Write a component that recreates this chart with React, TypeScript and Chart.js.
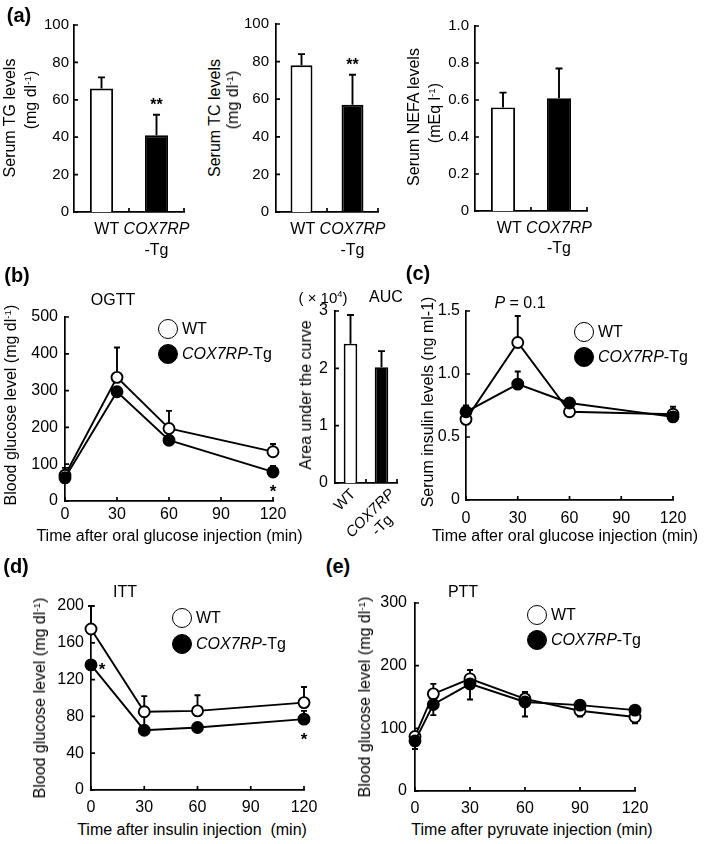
import React, { useEffect, useRef } from 'react';
import { Chart, registerables } from 'chart.js';

Chart.register(...registerables);

const FONT = "'Liberation Sans', Arial, Helvetica, sans-serif";
Chart.defaults.font.family = FONT;
Chart.defaults.color = '#000';

// ---------------- data ----------------
const genotypes = ['WT', 'COX7RP'];
const tgSuffix = '-Tg';

const serumTG = [66, 41];
const serumTGErr = [6, 11];
const serumTGStars = ['', '**'];
const tgTicks = [0, 20, 40, 60, 80, 100];

const serumTC = [78, 57];
const serumTCErr = [6, 16];
const serumTCStars = ['', '**'];
const tcTicks = [0, 20, 40, 60, 80, 100];

const serumNEFA = [0.56, 0.61];
const serumNEFAErr = [0.08, 0.16];
const nefaTicks = [0, 0.2, 0.4, 0.6, 0.8, 1.0];

const timeTicks = [0, 30, 60, 90, 120];

const ogttTimes = [0, 30, 60, 120];
const ogttWT = [70, 336, 197, 134];
const ogttWTErrUp = [20, 81, 48, 21];
const ogttTg = [63, 297, 165, 79];
const ogttTgErrUp = [0, 0, 0, 16];
const ogttTgStars = ['', '', '', '*'];
const ogttTicks = [0, 100, 200, 300, 400, 500];

const aucValues = [2.43, 2.02];
const aucErr = [0.5, 0.28];
const aucTicks = [0, 1, 2, 3];

const insulinTimes = [0, 30, 60, 120];
const insulinWT = [0.64, 1.25, 0.7, 0.68];
const insulinWTErrUp = [0, 0.21, 0.02, 0.06];
const insulinTg = [0.7, 0.92, 0.77, 0.66];
const insulinTgErrUp = [0.05, 0.1, 0.04, 0];
const insulinTicks = [0, 0.5, 1.0, 1.5];

const ittTimes = [0, 30, 60, 120];
const ittWT = [175, 85, 86, 95];
const ittWTErrUp = [25, 17, 17, 17];
const ittTg = [136, 65, 68, 77];
const ittTgErrUp = [0, 15, 0, 9];
const ittTgStars = ['*', '', '', '*'];
const ittTicks = [0, 40, 80, 120, 160, 200];

const pttTimes = [0, 10, 30, 60, 90, 120];
const pttWT = [87, 155, 179, 147, 128, 118];
const pttWTErrUp = [0, 16, 14, 11, 0, 0];
const pttWTErrDown = [0, 0, 0, 0, 9, 10];
const pttTg = [80, 138, 171, 142, 137, 129];
const pttTgErrUp = [0, 0, 0, 0, 7, 0];
const pttTgErrDown = [13, 17, 25, 23, 0, 0];
const pttTicks = [0, 100, 200, 300];

// ---------------- style constants ----------------
const LINE_W = 1.9;
const AXIS_W = 1.7;

// ---------------- plugins ----------------
const valOf = (raw: any) => (typeof raw === 'number' ? raw : raw.y);

const errorBarsPlugin = {
  id: 'errorBars',
  beforeDatasetsDraw(chart: any) {
    const ctx = chart.ctx;
    const ys = chart.scales.y;
    ctx.save();
    ctx.strokeStyle = '#000';
    ctx.lineWidth = LINE_W;
    chart.data.datasets.forEach((ds: any, di: number) => {
      const meta = chart.getDatasetMeta(di);
      const cap = ds.errCap ?? 6;
      meta.data.forEach((el: any, i: number) => {
        const v = valOf(ds.data[i]);
        const y0 = ys.getPixelForValue(v);
        const pairs: [number, number][] = [
          [ds.errUp ? ds.errUp[i] : 0, 1],
          [ds.errDown ? ds.errDown[i] : 0, -1],
        ];
        pairs.forEach(([e, s]) => {
          if (!e) return;
          const y1 = ys.getPixelForValue(v + s * e);
          ctx.beginPath();
          ctx.moveTo(el.x, y0);
          ctx.lineTo(el.x, y1);
          ctx.moveTo(el.x - cap / 2, y1);
          ctx.lineTo(el.x + cap / 2, y1);
          ctx.stroke();
        });
      });
    });
    ctx.restore();
  },
};

const starsPlugin = {
  id: 'sigStars',
  afterDatasetsDraw(chart: any) {
    const ctx = chart.ctx;
    const ys = chart.scales.y;
    chart.data.datasets.forEach((ds: any, di: number) => {
      if (!ds.stars) return;
      const meta = chart.getDatasetMeta(di);
      ds.stars.forEach((s: string, i: number) => {
        if (!s) return;
        const el = meta.data[i];
        const v = valOf(ds.data[i]);
        const base =
          ds.starAnchor === 'errTop'
            ? ys.getPixelForValue(v + (ds.errUp ? ds.errUp[i] : 0))
            : el.y;
        const cx = el.x + (ds.starDx ? ds.starDx[i] : 0);
        const cy = base + (ds.starDy ? ds.starDy[i] : 0);
        const size = ds.starSize || 17;
        ctx.save();
        ctx.fillStyle = '#000';
        ctx.font = `bold ${size}px ${FONT}`;
        ctx.textAlign = 'center';
        ctx.textBaseline = 'alphabetic';
        ctx.fillText(s, cx, cy + 0.58 * size);
        ctx.restore();
      });
    });
  },
};

const inwardTicksPlugin = {
  id: 'inwardTicks',
  afterDraw(chart: any) {
    const ctx = chart.ctx;
    const a = chart.chartArea;
    const L = 4;
    const ys = chart.scales.y;
    const xs = chart.scales.x;
    ctx.save();
    ctx.strokeStyle = '#000';
    ctx.lineWidth = AXIS_W;
    ctx.beginPath();
    ys.ticks.forEach((t: any) => {
      const p = ys.getPixelForValue(t.value);
      ctx.moveTo(a.left, p);
      ctx.lineTo(a.left + L, p);
    });
    if (xs.type === 'category') {
      const n = xs.getLabels().length;
      for (let i = 1; i <= n; i++) {
        const p = a.left + ((a.right - a.left) * i) / n;
        ctx.moveTo(p, a.bottom);
        ctx.lineTo(p, a.bottom - L);
      }
    } else {
      xs.ticks.forEach((t: any) => {
        const p = xs.getPixelForValue(t.value);
        ctx.moveTo(p, a.bottom);
        ctx.lineTo(p, a.bottom - L);
      });
    }
    ctx.stroke();
    ctx.restore();
  },
};

function flatGenotypeLabels(size: number, dy1: number, dy2: number) {
  return {
    id: 'genoLabels',
    afterDraw(chart: any) {
      const xs = chart.scales.x;
      const ctx = chart.ctx;
      const b = chart.chartArea.bottom;
      const c1 = xs.getPixelForValue(1);
      ctx.save();
      ctx.fillStyle = '#000';
      ctx.textBaseline = 'middle';
      ctx.font = `italic ${size}px ${FONT}`;
      const wC = ctx.measureText(genotypes[1]).width;
      const left = c1 - wC / 2;
      ctx.textAlign = 'left';
      ctx.fillText(genotypes[1], left, b + dy1);
      ctx.font = `${size}px ${FONT}`;
      ctx.textAlign = 'right';
      ctx.fillText(genotypes[0] + ' ', left, b + dy1);
      ctx.textAlign = 'center';
      ctx.fillText(tgSuffix, c1, b + dy2);
      ctx.restore();
    },
  };
}

function rotatedGenotypeLabels(size: number) {
  return {
    id: 'rotGenoLabels',
    afterDraw(chart: any) {
      const xs = chart.scales.x;
      const ctx = chart.ctx;
      const b = chart.chartArea.bottom;
      const c0 = xs.getPixelForValue(0);
      const c1 = xs.getPixelForValue(1);
      ctx.save();
      ctx.fillStyle = '#000';
      ctx.textAlign = 'center';
      ctx.textBaseline = 'middle';
      ctx.translate(c0 - 5.5, b + 17);
      ctx.rotate(-Math.PI / 4);
      ctx.font = `${size}px ${FONT}`;
      ctx.fillText(genotypes[0], 0, 0);
      ctx.restore();
      ctx.save();
      ctx.fillStyle = '#000';
      ctx.textAlign = 'center';
      ctx.textBaseline = 'middle';
      ctx.translate(c1 - 5, b + 36.5);
      ctx.rotate(-Math.PI / 4);
      ctx.font = `italic ${size}px ${FONT}`;
      ctx.fillText(genotypes[1], 0, -8.5);
      ctx.font = `${size}px ${FONT}`;
      ctx.fillText(tgSuffix, 0, 8.5);
      ctx.restore();
    },
  };
}

// ---------------- builders ----------------
type Box = { l: number; t: number; r: number; b: number };

const fmtInt = (v: any) => String(Number(v));
const fmtDec = (v: any) => (Number(v) === 0 ? '0' : Number(v).toFixed(1));

function yScale(ticksArr: number[], m: Box, size: number, pad: number, fmt: (v: any) => string) {
  return {
    type: 'linear',
    position: 'left',
    min: ticksArr[0],
    max: ticksArr[ticksArr.length - 1],
    afterBuildTicks: (s: any) => {
      s.ticks = ticksArr.map((v) => ({ value: v }));
    },
    afterFit: (s: any) => {
      s.width = m.l;
      s.paddingTop = 0;
      s.paddingBottom = 0;
      s.paddingLeft = 0;
      s.paddingRight = 0;
    },
    grid: { display: false, drawTicks: false },
    border: { display: true, color: '#000', width: AXIS_W },
    ticks: { color: '#000', font: { family: FONT, size }, padding: pad, autoSkip: false, callback: fmt },
  };
}

function xTimeScale(m: Box, pad: number) {
  return {
    type: 'linear',
    position: 'bottom',
    min: timeTicks[0],
    max: timeTicks[timeTicks.length - 1],
    afterBuildTicks: (s: any) => {
      s.ticks = timeTicks.map((v) => ({ value: v }));
    },
    afterFit: (s: any) => {
      s.height = m.b;
      s.paddingLeft = 0;
      s.paddingRight = 0;
      s.paddingTop = 0;
      s.paddingBottom = 0;
    },
    grid: { display: false, drawTicks: false },
    border: { display: true, color: '#000', width: AXIS_W },
    ticks: { color: '#000', font: { family: FONT, size: 16 }, padding: pad, autoSkip: false, maxRotation: 0, minRotation: 0 },
  };
}

function xCatScale(m: Box) {
  return {
    type: 'category',
    position: 'bottom',
    offset: true,
    afterFit: (s: any) => {
      s.height = m.b;
      s.paddingLeft = 0;
      s.paddingRight = 0;
      s.paddingTop = 0;
      s.paddingBottom = 0;
    },
    grid: { display: false, drawTicks: false, offset: true },
    border: { display: true, color: '#000', width: AXIS_W },
    ticks: { display: false },
  };
}

function baseOptions(m: Box, scales: any) {
  return {
    responsive: false,
    maintainAspectRatio: false,
    animation: false,
    events: [],
    layout: { padding: { left: 0, top: m.t, right: m.r, bottom: 0 } },
    plugins: { legend: { display: false }, tooltip: { enabled: false }, title: { display: false } },
    scales,
  };
}

type BarSpec = {
  values: number[];
  errs: number[];
  stars?: string[];
  yTicks: number[];
  fmt: (v: any) => string;
  tickSize: number;
  yPad: number;
  barPct: number;
  cap: number;
  labelsPlugin: any;
};

function barBuilder(spec: BarSpec) {
  return (m: Box) => ({
    type: 'bar',
    data: {
      labels: genotypes.map((g, i) => (i === 0 ? g : g + tgSuffix)),
      datasets: [
        {
          data: spec.values,
          backgroundColor: ['#ffffff', '#000000'],
          borderColor: '#000',
          borderWidth: LINE_W,
          barPercentage: spec.barPct,
          categoryPercentage: 1,
          errUp: spec.errs,
          errCap: spec.cap,
          stars: spec.stars,
          starAnchor: 'errTop',
          starDx: [0, 0],
          starDy: [-14, -14],
          starSize: 16,
        },
      ],
    },
    options: baseOptions(m, {
      x: xCatScale(m),
      y: yScale(spec.yTicks, m, spec.tickSize, spec.yPad, spec.fmt),
    }),
    plugins: [errorBarsPlugin, starsPlugin, inwardTicksPlugin, spec.labelsPlugin],
  });
}

function lineDs(label: string, times: number[], values: number[], fill: string, extra: any) {
  return {
    label,
    data: times.map((t, i) => ({ x: t, y: values[i] })),
    borderColor: '#000',
    borderWidth: LINE_W,
    backgroundColor: fill,
    pointBackgroundColor: fill,
    pointBorderColor: '#000',
    pointBorderWidth: LINE_W,
    pointRadius: 5.5,
    tension: 0,
    fill: false,
    clip: false,
    errCap: 6,
    ...extra,
  };
}

type LineSpec = {
  datasets: any[];
  yTicks: number[];
  fmt: (v: any) => string;
  yPad: number;
  xPad: number;
};

function lineBuilder(spec: LineSpec) {
  return (m: Box) => ({
    type: 'line',
    data: { datasets: spec.datasets },
    options: baseOptions(m, {
      x: xTimeScale(m, spec.xPad),
      y: yScale(spec.yTicks, m, 16, spec.yPad, spec.fmt),
    }),
    plugins: [errorBarsPlugin, starsPlugin, inwardTicksPlugin],
  });
}

// ---------------- components ----------------
function ChartBox({ area, m, build }: { area: Box; m: Box; build: (m: Box) => any }) {
  const ref = useRef<HTMLCanvasElement>(null);
  useEffect(() => {
    if (!ref.current) return;
    const chart = new Chart(ref.current, build(m));
    return () => chart.destroy();
  }, []);
  const w = area.r - area.l + m.l + m.r;
  const h = area.b - area.t + m.t + m.b;
  return (
    <canvas
      ref={ref}
      width={w}
      height={h}
      style={{ position: 'absolute', left: area.l - m.l, top: area.t - m.t, width: w, height: h }}
    />
  );
}

function Txt({
  x,
  y,
  rot = 0,
  size = 16,
  bold = false,
  anchor = 'center',
  children,
}: {
  x: number;
  y: number;
  rot?: number;
  size?: number;
  bold?: boolean;
  anchor?: 'center' | 'left';
  children: any;
}) {
  const tx = anchor === 'left' ? '0' : '-50%';
  return (
    <div
      style={{
        position: 'absolute',
        left: x,
        top: y,
        transform: `translate(${tx}, -50%) rotate(${rot}deg)`,
        fontSize: size,
        fontWeight: bold ? 700 : 400,
        lineHeight: 1,
        whiteSpace: 'pre',
        fontFamily: FONT,
        color: '#000',
      }}
    >
      {children}
    </div>
  );
}

const Sup = ({ children }: { children: any }) => (
  <sup style={{ fontSize: '0.62em', verticalAlign: '0.55em', lineHeight: 0 }}>{children}</sup>
);

function Legend({ x, y1, y2 }: { x: number; y1: number; y2: number }) {
  const circ = (y: number, fill: string) => (
    <div
      style={{
        position: 'absolute',
        left: x - 10,
        top: y - 10,
        width: 20,
        height: 20,
        boxSizing: 'border-box',
        borderRadius: '50%',
        border: '1.8px solid #000',
        background: fill,
      }}
    />
  );
  return (
    <>
      {circ(y1, '#fff')}
      {circ(y2, '#000')}
      <Txt x={x + 14} y={y1} anchor="left">
        {genotypes[0]}
      </Txt>
      <Txt x={x + 14} y={y2} anchor="left">
        <i>{genotypes[1]}</i>
        {tgSuffix}
      </Txt>
    </>
  );
}

const mBar: Box = { l: 45, t: 12, r: 20, b: 55 };
const mLine: Box = { l: 45, t: 12, r: 22, b: 30 };

export default function App() {
  return (
    <div
      style={{
        position: 'absolute',
        left: 0,
        top: 0,
        width: 709,
        height: 844,
        background: '#fff',
        overflow: 'hidden',
        fontFamily: FONT,
      }}
    >
      {/* (a) */}
      <ChartBox
        area={{ l: 74, t: 25, r: 184, b: 212 }}
        m={mBar}
        build={barBuilder({
          values: serumTG,
          errs: serumTGErr,
          stars: serumTGStars,
          yTicks: tgTicks,
          fmt: fmtInt,
          tickSize: 15,
          yPad: 5,
          barPct: 0.42,
          cap: 7,
          labelsPlugin: flatGenotypeLabels(16, 18, 39),
        })}
      />
      <ChartBox
        area={{ l: 276, t: 24, r: 378, b: 212 }}
        m={mBar}
        build={barBuilder({
          values: serumTC,
          errs: serumTCErr,
          stars: serumTCStars,
          yTicks: tcTicks,
          fmt: fmtInt,
          tickSize: 15,
          yPad: 7,
          barPct: 0.43,
          cap: 7,
          labelsPlugin: flatGenotypeLabels(16, 18, 39),
        })}
      />
      <ChartBox
        area={{ l: 475, t: 26, r: 587, b: 211 }}
        m={mBar}
        build={barBuilder({
          values: serumNEFA,
          errs: serumNEFAErr,
          yTicks: nefaTicks,
          fmt: fmtDec,
          tickSize: 15,
          yPad: 6,
          barPct: 0.43,
          cap: 7,
          labelsPlugin: flatGenotypeLabels(16, 18, 38),
        })}
      />

      {/* (b) OGTT */}
      <ChartBox
        area={{ l: 65, t: 317, r: 273, b: 501 }}
        m={mLine}
        build={lineBuilder({
          datasets: [
            lineDs(genotypes[1] + tgSuffix, ogttTimes, ogttTg, '#000', {
              errUp: ogttTgErrUp,
              stars: ogttTgStars,
              starAnchor: 'point',
              starDx: [0, 0, 0, 0],
              starDy: [0, 0, 0, 15],
            }),
            lineDs(genotypes[0], ogttTimes, ogttWT, '#fff', { errUp: ogttWTErrUp }),
          ],
          yTicks: ogttTicks,
          fmt: fmtInt,
          yPad: 7,
          xPad: 3.5,
        })}
      />
      {/* (b) AUC */}
      <ChartBox
        area={{ l: 335, t: 311, r: 397, b: 483 }}
        m={{ l: 25, t: 12, r: 15, b: 65 }}
        build={barBuilder({
          values: aucValues,
          errs: aucErr,
          yTicks: aucTicks,
          fmt: fmtInt,
          tickSize: 16,
          yPad: 7,
          barPct: 0.44,
          cap: 7,
          labelsPlugin: rotatedGenotypeLabels(15),
        })}
      />

      {/* (c) insulin */}
      <ChartBox
        area={{ l: 466, t: 311, r: 673, b: 500 }}
        m={{ l: 35, t: 12, r: 22, b: 30 }}
        build={lineBuilder({
          datasets: [
            lineDs(genotypes[1] + tgSuffix, insulinTimes, insulinTg, '#000', { errUp: insulinTgErrUp }),
            lineDs(genotypes[0], insulinTimes, insulinWT, '#fff', { errUp: insulinWTErrUp }),
          ],
          yTicks: insulinTicks,
          fmt: fmtDec,
          yPad: 6,
          xPad: 8.5,
        })}
      />

      {/* (d) ITT */}
      <ChartBox
        area={{ l: 91, t: 606, r: 304, b: 790 }}
        m={mLine}
        build={lineBuilder({
          datasets: [
            lineDs(genotypes[1] + tgSuffix, ittTimes, ittTg, '#000', {
              errUp: ittTgErrUp,
              stars: ittTgStars,
              starAnchor: 'point',
              starDx: [11, 0, 0, 0],
              starDy: [0, 0, 0, 16],
            }),
            lineDs(genotypes[0], ittTimes, ittWT, '#fff', { errUp: ittWTErrUp }),
          ],
          yTicks: ittTicks,
          fmt: fmtInt,
          yPad: 7,
          xPad: 8,
        })}
      />

      {/* (e) PTT */}
      <ChartBox
        area={{ l: 415, t: 603, r: 635, b: 791 }}
        m={mLine}
        build={lineBuilder({
          datasets: [
            lineDs(genotypes[1] + tgSuffix, pttTimes, pttTg, '#000', { errUp: pttTgErrUp, errDown: pttTgErrDown }),
            lineDs(genotypes[0], pttTimes, pttWT, '#fff', { errUp: pttWTErrUp, errDown: pttWTErrDown }),
          ],
          yTicks: pttTicks,
          fmt: fmtInt,
          yPad: 8,
          xPad: 8,
        })}
      />

      {/* panel letters */}
      <Txt x={19} y={15} size={20} bold>(a)</Txt>
      <Txt x={17} y={275} size={20} bold>(b)</Txt>
      <Txt x={418} y={273} size={20} bold>(c)</Txt>
      <Txt x={16} y={566} size={20} bold>(d)</Txt>
      <Txt x={338} y={566} size={20} bold>(e)</Txt>

      {/* (a) axis titles */}
      <Txt x={10} y={118} rot={-90}>Serum TG levels</Txt>
      <Txt x={31} y={100} rot={-90}>
        (mg dl<Sup>-1</Sup>)
      </Txt>
      <Txt x={215} y={118} rot={-90}>Serum TC levels</Txt>
      <Txt x={233} y={100} rot={-90}>
        (mg dl<Sup>-1</Sup>)
      </Txt>
      <Txt x={414} y={117} rot={-90}>Serum NEFA levels</Txt>
      <Txt x={435} y={113} rot={-90}>
        (mEq l<Sup>-1</Sup>)
      </Txt>

      {/* (b) */}
      <Txt x={113} y={300}>OGTT</Txt>
      <Txt x={11} y={405} rot={-90}>
        Blood glucose level (mg dl<Sup>-1</Sup>)
      </Txt>
      <Txt x={169.5} y={536}>Time after oral glucose injection (min)</Txt>
      <Legend x={168} y1={329} y2={354} />
      <Txt x={323} y={297} size={15}>
        ( × 10<Sup>4</Sup>)
      </Txt>
      <Txt x={386} y={297}>AUC</Txt>
      <Txt x={306} y={395} rot={-90}>Area under the curve</Txt>

      {/* (c) */}
      <Txt x={520} y={303}>
        <i>P</i> = 0.1
      </Txt>
      <Txt x={428} y={402} rot={-90}>Serum insulin levels (ng ml-1)</Txt>
      <Txt x={565} y={536}>Time after oral glucose injection (min)</Txt>
      <Legend x={584} y1={332} y2={357} />

      {/* (d) */}
      <Txt x={125} y={592}>ITT</Txt>
      <Txt x={40} y={698} rot={-90}>
        Blood glucose level (mg dl<Sup>-1</Sup>)
      </Txt>
      <Txt x={192} y={830}>Time after insulin injection  (min)</Txt>
      <Legend x={182} y1={618} y2={644} />

      {/* (e) */}
      <Txt x={463} y={592}>PTT</Txt>
      <Txt x={365} y={697} rot={-90}>
        Blood glucose level (mg dl<Sup>-1</Sup>)
      </Txt>
      <Txt x={532} y={830}>Time after pyruvate injection (min)</Txt>
      <Legend x={537} y1={615} y2={640} />
    </div>
  );
}
